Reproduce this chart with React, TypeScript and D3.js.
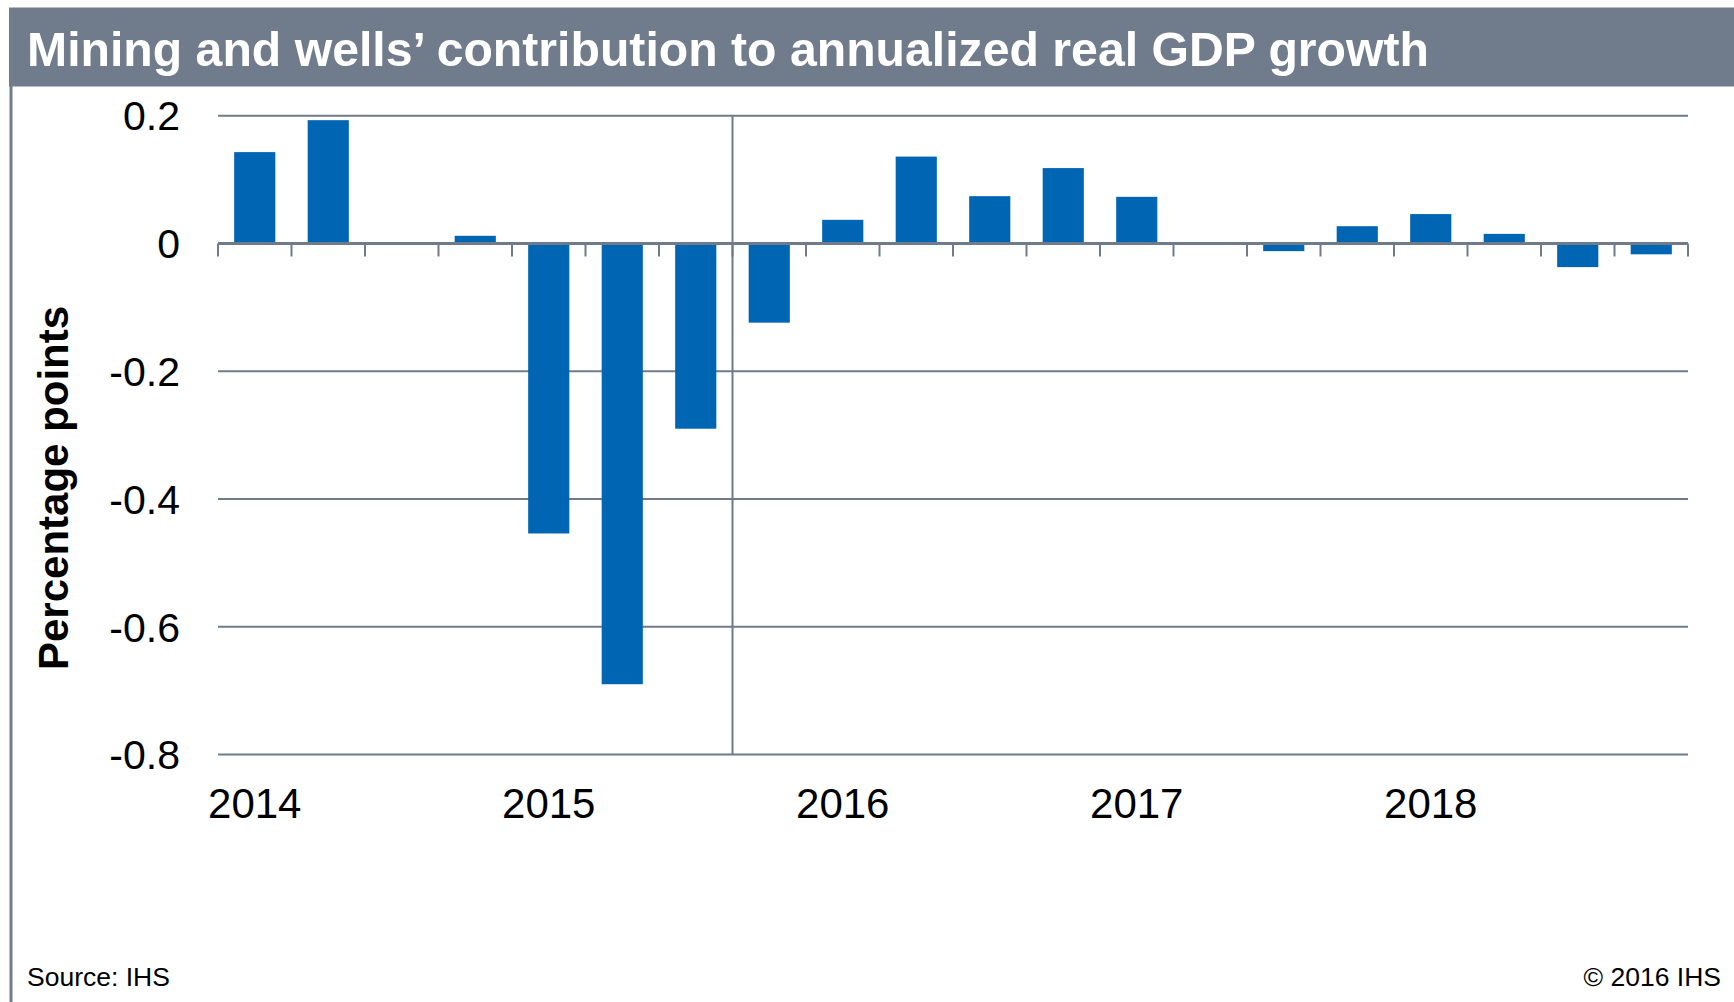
import React from "react";
import * as d3 from "d3";

const quarters = [
  "2014Q1", "2014Q2", "2014Q3", "2014Q4",
  "2015Q1", "2015Q2", "2015Q3", "2015Q4",
  "2016Q1", "2016Q2", "2016Q3", "2016Q4",
  "2017Q1", "2017Q2", "2017Q3", "2017Q4",
  "2018Q1", "2018Q2", "2018Q3", "2018Q4",
];
const contribution = [
  0.143, 0.193, 0.002, 0.012,
  -0.454, -0.69, -0.29, -0.124,
  0.037, 0.136, 0.074, 0.118,
  0.073, 0.002, -0.012, 0.027,
  0.046, 0.015, -0.037, -0.017,
];
const yTicks = [0.2, 0, -0.2, -0.4, -0.6, -0.8];
const yTickLabels = ["0.2", "0", "-0.2", "-0.4", "-0.6", "-0.8"];
const yearLabels = ["2014", "2015", "2016", "2017", "2018"];
const yearFirstQuarter = ["2014Q1", "2015Q1", "2016Q1", "2017Q1", "2018Q1"];
const forecastStart = "2015Q4";

const W = 1734;
const H = 1002;
const FONT = "'Liberation Sans', Arial, Helvetica, sans-serif";
const GRAY = "#6f7b8a";
const BLUE = "#0066b3";

export default function App() {
  const x = d3.scaleBand<string>().domain(quarters).range([218, 1688]).paddingInner(0.44).paddingOuter(0.22);
  const y = d3.scaleLinear().domain([-0.8, 0.2]).range([754.5, 115.7]);
  const step = x.step();
  const left = 218;
  const y0 = y(0);
  const boundaries = d3.range(quarters.length + 1).map((i) => left + i * step);
  const divX = (x(forecastStart) as number) - (step - x.bandwidth()) / 2;

  return (
    <svg width={W} height={H} style={{ position: "absolute", left: 0, top: 0, background: "#fff" }}>
      <rect x={0} y={0} width={W} height={H} fill="#fff" />
      <rect x={9} y={7.5} width={W - 9} height={79} fill="#707c8b" />
      <rect x={9.5} y={86} width={3} height={H - 86} fill="#707c8b" />
      <text x={27} y={66} fill="#fff" fontFamily={FONT} fontWeight="bold" fontSize={48.2}>
        Mining and wells’ contribution to annualized real GDP growth
      </text>

      {yTicks.filter((t) => t !== 0).map((t) => (
        <line key={t} x1={left} x2={1688} y1={y(t)} y2={y(t)} stroke={GRAY} strokeWidth={2} />
      ))}
      <line x1={divX} x2={divX} y1={y(0.2)} y2={y(-0.8)} stroke={GRAY} strokeWidth={2} />

      {quarters.map((q, i) => {
        const v = contribution[i];
        return (
          <rect
            key={q}
            x={x(q)}
            width={x.bandwidth()}
            y={y(Math.max(0, v))}
            height={Math.abs(y(v) - y0)}
            fill={BLUE}
          />
        );
      })}

      <line x1={left} x2={1688} y1={y0} y2={y0} stroke={GRAY} strokeWidth={3} />
      {boundaries.map((bx, i) => (
        <line key={i} x1={bx} x2={bx} y1={y0} y2={y0 + 13} stroke={GRAY} strokeWidth={2} />
      ))}

      {yTicks.map((t, i) => (
        <text
          key={t}
          x={180}
          y={y(t)}
          dy="0.36em"
          textAnchor="end"
          fontFamily={FONT}
          fontSize={41}
          fill="#000"
        >
          {yTickLabels[i]}
        </text>
      ))}

      {yearLabels.map((lab, i) => (
        <text
          key={lab}
          x={(x(yearFirstQuarter[i]) as number) + x.bandwidth() / 2}
          y={818}
          textAnchor="middle"
          fontFamily={FONT}
          fontSize={42}
          fill="#000"
        >
          {lab}
        </text>
      ))}

      <text
        transform={`translate(68,488) rotate(-90)`}
        textAnchor="middle"
        fontFamily={FONT}
        fontWeight="bold"
        fontSize={42}
        fill="#000"
      >
        Percentage points
      </text>

      <text x={27} y={986} fontFamily={FONT} fontSize={26.5} fill="#000">
        Source: IHS
      </text>
      <text x={1721} y={986} textAnchor="end" fontFamily={FONT} fontSize={26.5} fill="#000">
        © 2016 IHS
      </text>
    </svg>
  );
}
